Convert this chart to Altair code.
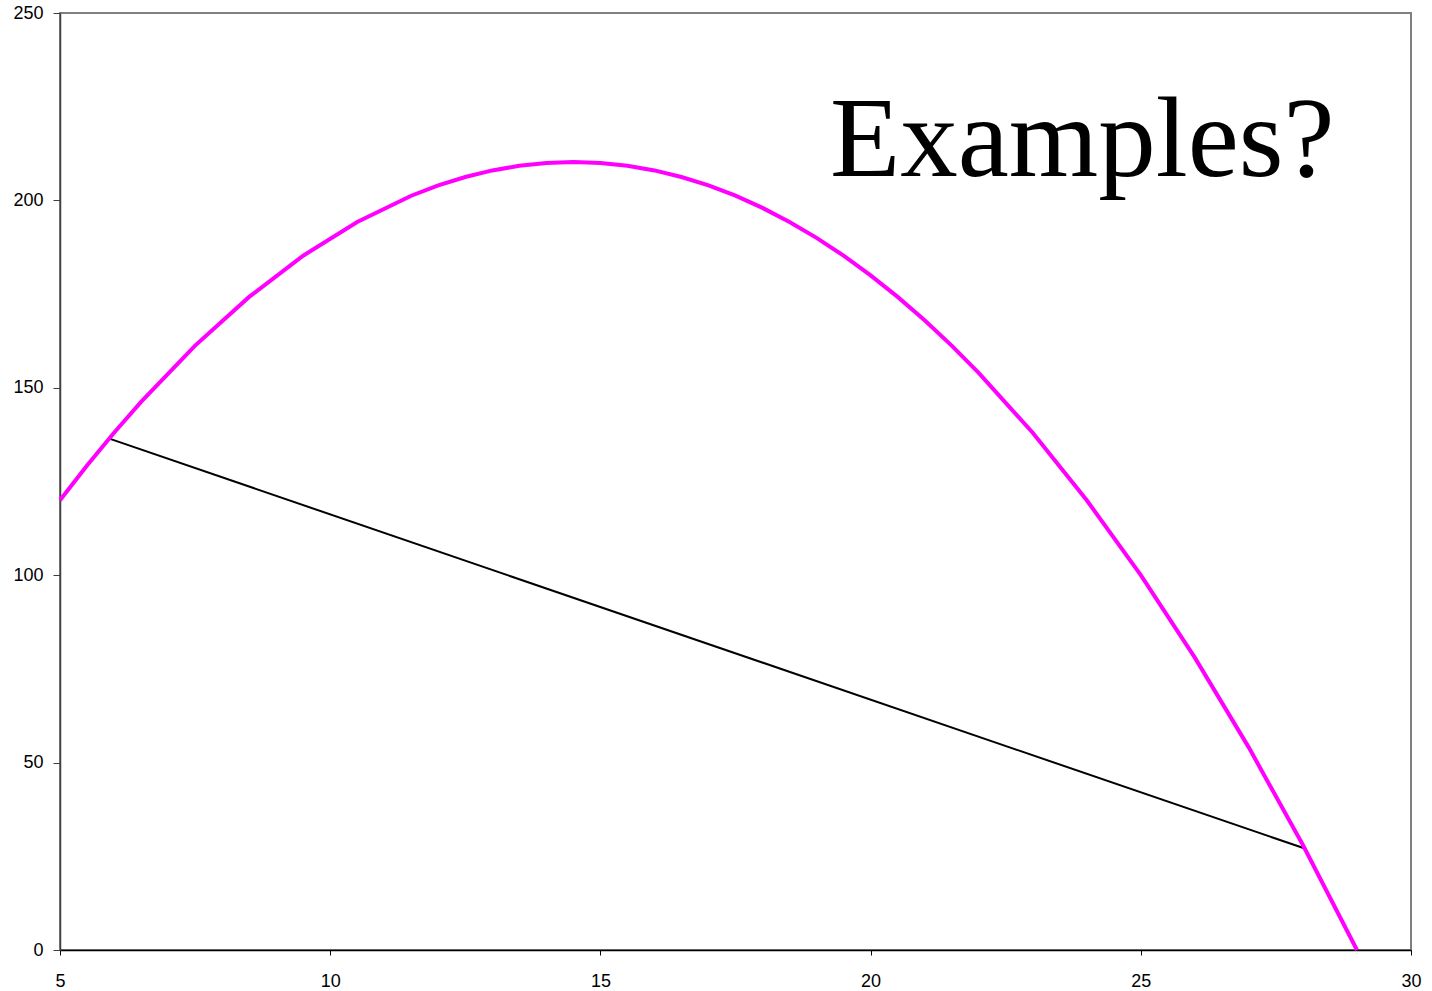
import altair as alt
import pandas as pd

# Curve samples (x, y)
curve_x = [5, 5.5, 6, 6.5, 7.5, 8.5, 9.5, 10.5, 11.5, 12, 12.5, 13, 13.5, 14,
           14.5, 15, 15.5, 16, 16.5, 17, 17.5, 18, 18.5, 19, 19.5, 20, 20.5,
           21, 21.5, 22, 23, 24, 25, 26, 27, 28, 29]
curve_y = [120, 129.25, 138, 146.25, 161.25, 174.25, 185.25, 194.25, 201.25,
           204, 206.25, 208, 209.25, 210, 210.25, 210, 209.25, 208, 206.25,
           204, 201.25, 198, 194.25, 190, 185.25, 180, 174.25, 168, 161.25,
           154, 138, 120, 100, 78, 54, 28, 0]

# Chord between two points on the curve
chord_x = [5.9, 28.05]
chord_y = [136.5, 27]

# Annotation
label_text = ["Examples?"]
label_x = [19.25]
label_y = [206.5]

curve = pd.DataFrame({"x": curve_x, "y": curve_y})
chord = pd.DataFrame({"x": chord_x, "y": chord_y})
label = pd.DataFrame({"x": label_x, "y": label_y, "t": label_text})

x_scale = alt.Scale(domain=[5, 30], nice=False, zero=False)
y_scale = alt.Scale(domain=[0, 250], nice=False)

x_axis = alt.Axis(values=[5, 10, 15, 20, 25, 30], title=None, grid=False,
                  domainColor="#000000", domainWidth=1.5, tickColor="#000000",
                  tickSize=5, labelPadding=17, labelFont="Liberation Sans",
                  labelFontSize=18, labelColor="#000000", labelFlush=False)
y_axis = alt.Axis(values=[0, 50, 100, 150, 200, 250], title=None, grid=False,
                  domainColor="#404040", domainWidth=1.5, tickColor="#404040",
                  tickSize=7, labelPadding=10, labelFont="Liberation Sans",
                  labelFontSize=18, labelColor="#000000", labelFlush=False)

chord_layer = alt.Chart(chord).mark_line(color="#000000", strokeWidth=2).encode(
    x=alt.X("x:Q", scale=x_scale, axis=x_axis),
    y=alt.Y("y:Q", scale=y_scale, axis=y_axis),
)

curve_layer = alt.Chart(curve).mark_line(color="#FF00FF", strokeWidth=4).encode(
    x=alt.X("x:Q", scale=x_scale),
    y=alt.Y("y:Q", scale=y_scale),
    order="x:Q",
)

text_layer = alt.Chart(label).mark_text(
    font="Liberation Serif", fontSize=115, align="left",
    baseline="alphabetic", color="#000000"
).encode(
    x=alt.X("x:Q", scale=x_scale),
    y=alt.Y("y:Q", scale=y_scale),
    text="t:N",
)

chart = alt.layer(chord_layer, curve_layer, text_layer).properties(
    width=1351,
    height=937,
    autosize=alt.AutoSizeParams(type="none"),
    padding={"left": 60, "top": 13, "right": 21, "bottom": 41},
    background="#ffffff",
).configure_view(
    stroke="#808080", strokeWidth=2
)

chart.save("out.html", embed_options={"renderer": "svg", "actions": False})
